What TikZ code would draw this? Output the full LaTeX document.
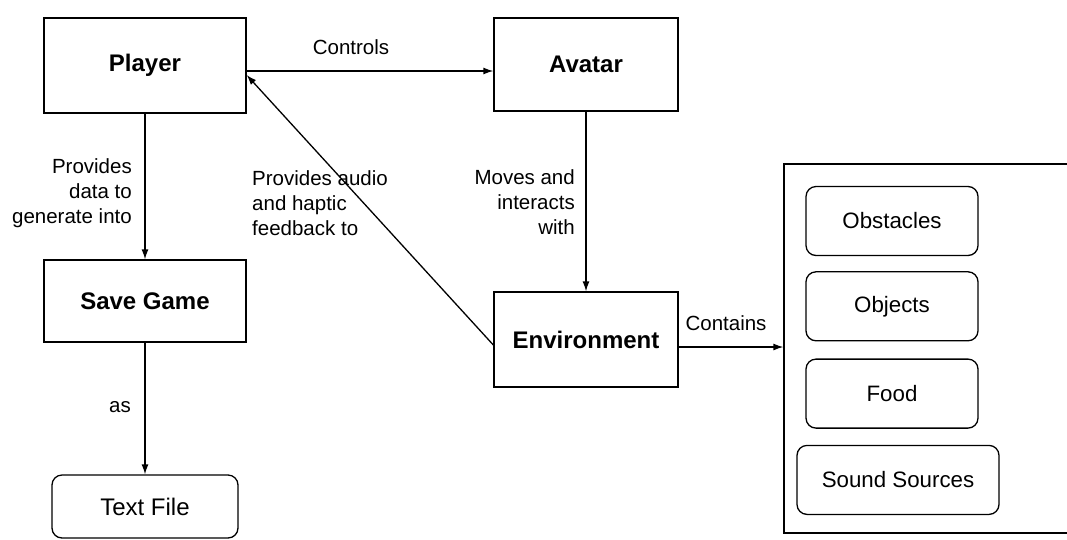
\documentclass[tikz,border=0pt]{standalone}
\usepackage{fontspec}
\setmainfont{Liberation Sans}
\usetikzlibrary{arrows.meta,positioning}
\tikzset{
  block/.style = { draw, line width=1.3pt, minimum width=202pt, minimum height=95pt, font=\fontsize{24}{28}\selectfont\bfseries },
  item/.style  = { draw, line width=1.3pt, rounded corners=10pt, minimum width=172pt, minimum height=69pt, font=\fontsize{22.3}{26}\selectfont },
  frame/.style = { draw, line width=1.3pt },
  flow/.style  = { line width=1.3pt, -{Latex[length=10pt,width=7pt]} },
  note/.style  = { inner sep=0pt, font=\fontsize{20.5}{25}\selectfont },
}
\begin{document}
\begin{tikzpicture}[x=1pt,y=-1pt]
    \useasboundingbox (0,0) rectangle (1067,539);
    \clip (0,0) rectangle (1067,539);

    % main blocks
    \node[block] (player) at (145,65.5) {Player};
    \node[block, minimum width=184pt, minimum height=93pt] (avatar) at (586,64.5) {Avatar};
    \node[block, minimum height=82pt] (savegame) at (145,301) {Save Game};
    \node[block, minimum width=184pt] (env) at (586,339.5) {Environment};
    \node[item, minimum width=186pt, minimum height=63pt, font=\fontsize{24}{28}\selectfont] (textfile) at (145,506.5) {Text File};

    % what the environment holds
    \node[frame, minimum width=306pt, minimum height=369pt] (contents) at (937,348.5) {};
    \node[item] (obstacles) at (892,221) {Obstacles};
    \node[item, below=15pt of obstacles] (objects) {Objects};
    \node[item, below=17pt of objects] (food) {Food};
    \node[item, below=16pt of food, xshift=6pt, minimum width=202pt] (sound) {Sound Sources};

    % connections
    \draw[flow] ([yshift=-5.5pt]player.east) -- ([yshift=-6.5pt]avatar.west);
    \draw[flow] (player.south) -- (savegame.north);
    \draw[flow] (savegame.south) -- (textfile.north);
    \draw[flow] (avatar.south) -- (env.north);
    \draw[flow] ([yshift=-5.5pt]env.west) -- ([yshift=-9.5pt]player.east);
    \draw[flow] ([yshift=-7.5pt]env.east) -- ([yshift=-7.5pt]env.east -| contents.west);

    % labels
    \node[note] (ctrl) at (351,47) {Controls};
    \node[note, anchor=east, align=right] (gen) at (132,193) {Provides\\data to\\generate into};
    \node[note, anchor=west, align=left] (fb) at (252,203) {Provides audio\\and haptic\\feedback to};
    \node[note, anchor=east, align=right] (moves) at (575,202) {Moves and\\interacts\\with};
    \node[note] (as) at (120,407) {as};
    \node[note] (holds) at (726,323) {Contains};
\end{tikzpicture}
\end{document}
